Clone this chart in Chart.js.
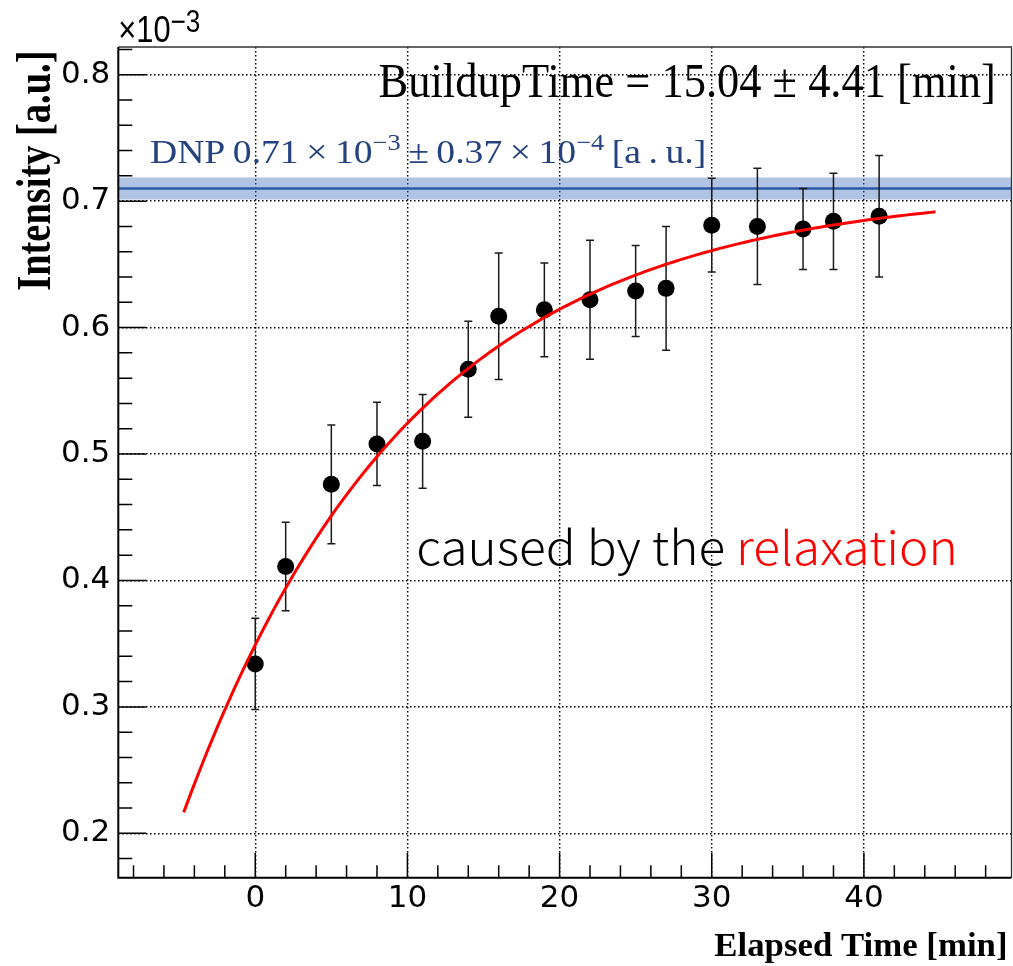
<!DOCTYPE html>
<html>
<head>
<meta charset="utf-8">
<script src="https://cdn.jsdelivr.net/npm/chart.js@4.4.0/dist/chart.umd.min.js"></script>
<style>
  html, body { margin: 0; padding: 0; background: #fff; }
  canvas { display: block; }
</style>
</head>
<body>
<canvas id="buildup" width="1013" height="966"></canvas>
<script>
// elapsed time [min], intensity [x1e-3 a.u.] and its error
const elapsedMin   = [0, 2, 5, 8, 11, 14, 16, 19, 22, 25, 27, 30, 33, 36, 38, 41];
const intensity    = [0.334, 0.411, 0.476, 0.508, 0.510, 0.567, 0.609, 0.614, 0.622, 0.629, 0.631, 0.681, 0.680, 0.678, 0.684, 0.688];
const intensityErr = [0.036, 0.035, 0.047, 0.033, 0.037, 0.038, 0.050, 0.037, 0.047, 0.036, 0.049, 0.037, 0.046, 0.032, 0.038, 0.048];

const xTicks = [0, 10, 20, 30, 40];
const yTicks = [0.2, 0.3, 0.4, 0.5, 0.6, 0.7, 0.8];

// buildup fit: I(t) = DNP - amp * exp(-t / T)
const dnpLevel = 0.71;
const dnpBand = 0.0087;
const buildupTime = 15.04;
const buildupErr = 4.41;
const fitAmp = 0.361;
const fitFrom = -4.7;
const fitTo = 44.7;

const points = elapsedMin.map((t, i) => ({x: t, y: intensity[i]}));

const fitCurve = [];
for (let i = 0; i <= 150; i++) {
  const t = fitFrom + (fitTo - fitFrom) * i / 150;
  fitCurve.push({x: t, y: dnpLevel - fitAmp * Math.exp(-t / buildupTime)});
}

const THIN = '\u2009';

// draws a run of text (with optional superscripts), stretched to a given ink width
function fitText(ctx, parts, o) {
  const size = o.size || o.cap / (o.capRatio || 0.655);
  const weight = o.weight || 'normal';
  const fontOf = p => weight + ' ' + (p.sup ? size * (o.supScale || 0.7) : size) + 'px "' + o.family + '"';
  let adv = 0;
  const items = parts.map(p => {
    ctx.font = fontOf(p);
    const m = ctx.measureText(p.t);
    const it = {p, x: adv, m};
    adv += m.width;
    return it;
  });
  const inkL = -items[0].m.actualBoundingBoxLeft;
  const last = items[items.length - 1];
  const inkR = last.x + last.m.actualBoundingBoxRight;
  const sx = o.width / (inkR - inkL);
  ctx.save();
  ctx.translate(o.x, o.y);
  if (o.rotate) ctx.rotate(o.rotate);
  ctx.scale(sx, 1);
  ctx.translate(-inkL, 0);
  ctx.textBaseline = 'alphabetic';
  ctx.textAlign = 'left';
  items.forEach(it => {
    ctx.font = fontOf(it.p);
    ctx.fillStyle = it.p.color || o.color || '#000';
    ctx.fillText(it.p.t, it.x, it.p.sup ? -size * (o.supRaise || 0.39) : 0);
  });
  ctx.restore();
}

const rootFrame = {
  id: 'rootFrame',
  beforeDatasetsDraw(chart) {
    const {ctx, chartArea: a, scales: {x, y}} = chart;
    ctx.save();
    // DNP level with its band
    const yHi = y.getPixelForValue(dnpLevel + dnpBand);
    const yLo = y.getPixelForValue(dnpLevel - dnpBand);
    ctx.fillStyle = 'rgba(70,115,190,0.42)';
    ctx.fillRect(a.left, yHi, a.right - a.left, yLo - yHi);
    const yMid = y.getPixelForValue(dnpLevel);
    ctx.strokeStyle = '#2b5aa8';
    ctx.lineWidth = 2.5;
    ctx.beginPath();
    ctx.moveTo(a.left, yMid);
    ctx.lineTo(a.right, yMid);
    ctx.stroke();

    // error bars
    ctx.strokeStyle = '#1a1a1a';
    ctx.lineWidth = 1.5;
    elapsedMin.forEach((t, i) => {
      const px = x.getPixelForValue(t);
      const top = y.getPixelForValue(intensity[i] + intensityErr[i]);
      const bot = y.getPixelForValue(intensity[i] - intensityErr[i]);
      ctx.beginPath();
      ctx.moveTo(px, top); ctx.lineTo(px, bot);
      ctx.moveTo(px - 4, top); ctx.lineTo(px + 4, top);
      ctx.moveTo(px - 4, bot); ctx.lineTo(px + 4, bot);
      ctx.stroke();
    });
    ctx.restore();
  },
  afterDraw(chart) {
    const {ctx, chartArea: a, scales: {x, y}} = chart;
    ctx.save();
    // inward ticks
    ctx.strokeStyle = '#000';
    ctx.lineWidth = 1.5;
    ctx.beginPath();
    for (let v = -8; v <= 48; v += 2) {
      const len = v % 10 === 0 ? 25 : 12.5;
      const px = x.getPixelForValue(v);
      ctx.moveTo(px, a.bottom);
      ctx.lineTo(px, a.bottom - len);
    }
    for (let k = 9; k <= 41; k++) {
      const len = k % 5 === 0 ? 28 : 14;
      const py = y.getPixelForValue(k * 0.02);
      ctx.moveTo(a.left, py);
      ctx.lineTo(a.left + len, py);
    }
    ctx.stroke();

    // frame
    ctx.strokeStyle = '#333';
    ctx.lineWidth = 1.3;
    ctx.beginPath();
    ctx.moveTo(a.left, a.top); ctx.lineTo(a.right, a.top); ctx.lineTo(a.right, a.bottom);
    ctx.stroke();
    ctx.strokeStyle = '#000';
    ctx.lineWidth = 2;
    ctx.beginPath();
    ctx.moveTo(a.left, a.top); ctx.lineTo(a.left, a.bottom); ctx.lineTo(a.right, a.bottom);
    ctx.stroke();
    ctx.restore();

    // labels
    fitText(ctx, [{t: '×10'}, {t: '−3', sup: true}],
      {x: 120, y: 41.7, width: 80, cap: 26.5, capRatio: 0.716, family: 'Liberation Sans', supScale: 0.85, supRaise: 0.25});
    fitText(ctx, [{t: 'BuildupTime = ' + buildupTime.toFixed(2) + ' ± ' + buildupErr.toFixed(2) + ' [min]'}],
      {x: 379.5, y: 96.7, width: 613.5, cap: 31.7, family: 'Liberation Serif'});
    fitText(ctx, [
      {t: 'DNP' + THIN + dnpLevel.toFixed(2) + THIN + '×' + THIN + '10'}, {t: '−3', sup: true},
      {t: THIN + '±' + THIN + '0.37' + THIN + '×' + THIN + '10'}, {t: '−4', sup: true},
      {t: THIN + '[a' + THIN + '.' + THIN + 'u.]'}
    ], {x: 150, y: 163.3, width: 554, cap: 21.5, family: 'Liberation Serif', color: '#24427f'});
    fitText(ctx, [{t: 'caused by the '}, {t: 'relaxation', color: '#ff0000'}],
      {x: 418.4, y: 565, width: 536, size: 46, weight: '300', family: 'Noto Sans CJK JP'});
    fitText(ctx, [{t: 'Elapsed Time [min]'}],
      {x: 714.3, y: 956, width: 291, cap: 22, family: 'Liberation Serif', weight: 'bold'});
    fitText(ctx, [{t: 'Intensity [a.u.]'}],
      {x: 50, y: 290, width: 237, cap: 31.7, family: 'Liberation Serif', weight: 'bold', rotate: -Math.PI / 2});
  }
};

const tickFont = {family: 'DejaVu Sans', size: 31};

// keep the plot frame where the axes put it, without label overhang padding
const noOverhang = s => { s.paddingLeft = 0; s.paddingRight = 0; s.paddingTop = 0; s.paddingBottom = 0; };

new Chart(document.getElementById('buildup'), {
  type: 'scatter',
  data: {
    datasets: [
      {type: 'line', data: fitCurve, borderColor: '#ff0000', borderWidth: 3, pointRadius: 0, fill: false, tension: 0, order: 0},
      {data: points, backgroundColor: '#000', borderWidth: 0, pointRadius: 8.5, pointHoverRadius: 8.5, order: 1}
    ]
  },
  options: {
    responsive: false,
    animation: false,
    devicePixelRatio: 1,
    layout: {autoPadding: false, padding: {top: 47, right: 1.5, left: 0, bottom: 0}},
    plugins: {legend: {display: false}, tooltip: {enabled: false}},
    scales: {
      x: {
        type: 'linear', min: -9, max: 49.7,
        afterBuildTicks: s => { s.ticks = xTicks.map(v => ({value: v})); },
        afterFit: s => { s.height = 88.3; noOverhang(s); },
        ticks: {font: tickFont, color: '#000', padding: 3, maxRotation: 0, autoSkip: false, callback: v => String(v)},
        grid: {color: '#000', lineWidth: 1.4, drawTicks: false},
        border: {display: false, dash: [1.5, 2.5]}
      },
      y: {
        type: 'linear', min: 0.1649, max: 0.8219,
        afterBuildTicks: s => { s.ticks = yTicks.map(v => ({value: v})); },
        afterFit: s => { s.width = 118.3; noOverhang(s); },
        ticks: {font: tickFont, color: '#000', padding: 8, autoSkip: false, callback: v => v.toFixed(1)},
        grid: {color: '#000', lineWidth: 1.4, drawTicks: false},
        border: {display: false, dash: [1.5, 2.5]}
      }
    }
  },
  plugins: [rootFrame]
});
</script>
</body>
</html>
